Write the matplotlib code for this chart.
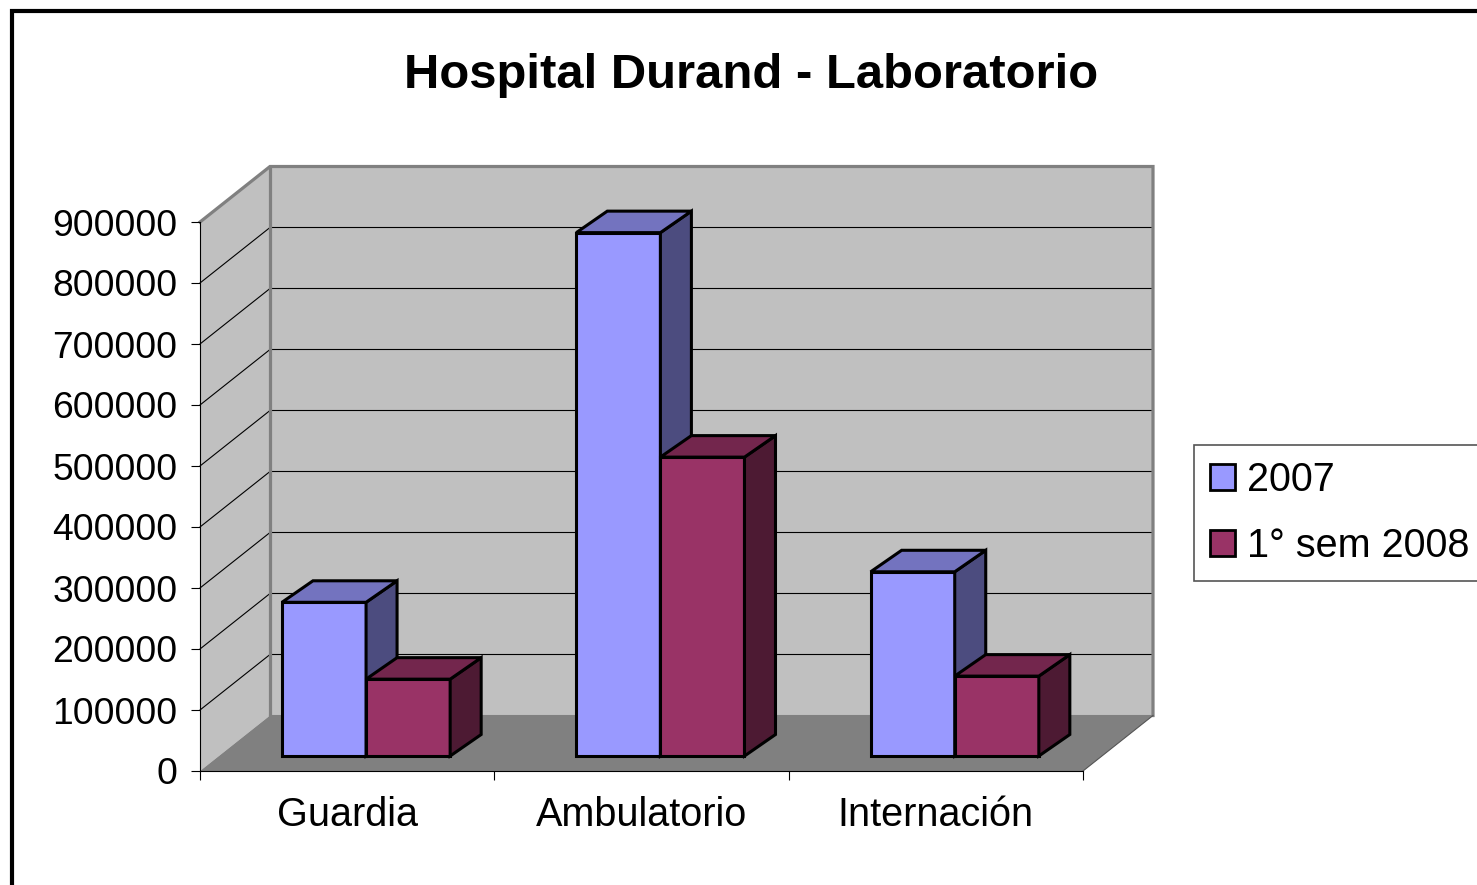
import numpy as np
import matplotlib
matplotlib.use("Agg")
import matplotlib.pyplot as plt
from matplotlib.patches import Polygon, Rectangle, Patch

plt.rcParams['font.family'] = ['Liberation Sans', 'DejaVu Sans']

# data
categories = ['Guardia', 'Ambulatorio', 'Internación']
series_names = ['2007', '1° sem 2008']
values_2007 = [252000, 858000, 302000]
values_2008 = [126000, 490000, 131000]
y_ticks = [0, 100000, 200000, 300000, 400000, 500000, 600000, 700000, 800000, 900000]

front_colors = ['#9999FF', '#993366']
side_colors = ['#4C4C7F', '#4D1A33']
top_colors = ['#7373BF', '#73264D']

W, H = 1477, 885
fig = plt.figure(figsize=(W / 100, H / 100), dpi=100)
ax = fig.add_axes([200 / W, 114 / H, 883 / W, 549 / H])
ymax = y_ticks[-1]
ncat = len(categories)
ax.set_xlim(0, ncat)
ax.set_ylim(0, ymax)

# pseudo 3d depth, converted from pixels to data units
px_x = ncat / 883
px_y = ymax / 549
wall_dx, wall_dy = 70 * px_x, 55.5 * px_y
bar_dx, bar_dy = 31 * px_x, 21.5 * px_y
bar_z = 0.27  # depth of the bars' front face (fraction of wall depth)

# walls and floor
kw = dict(clip_on=False, zorder=0, edgecolor='none')
ax.add_patch(Rectangle((wall_dx, wall_dy), ncat, ymax, facecolor='#C0C0C0', **kw))
ax.add_patch(Polygon([(0, 0), (wall_dx, wall_dy), (wall_dx, ymax + wall_dy), (0, ymax)],
                     facecolor='#C0C0C0', **kw))
ax.add_patch(Polygon([(0, 0), (ncat, 0), (ncat + wall_dx, wall_dy), (wall_dx, wall_dy)],
                     facecolor='#808080', **kw))

# gridlines on left and back wall
for v in y_ticks[1:-1]:
    ax.plot([0, wall_dx, ncat + wall_dx], [v, v + wall_dy, v + wall_dy],
            color='black', lw=0.8, clip_on=False, zorder=1)

# wall edges
edge = dict(color='#808080', lw=2.3, clip_on=False, zorder=1.5, solid_joinstyle='miter')
ax.plot([0, wall_dx, ncat + wall_dx, ncat + wall_dx],
        [ymax, ymax + wall_dy, ymax + wall_dy, wall_dy], **edge)
ax.plot([wall_dx, wall_dx], [wall_dy, ymax + wall_dy], **edge)
ax.plot([wall_dx, ncat + wall_dx], [wall_dy, wall_dy], color='#808080', lw=1.5,
        clip_on=False, zorder=1.5)
ax.plot([ncat, ncat + wall_dx], [0, wall_dy], color='#555555', lw=0.8,
        clip_on=False, zorder=1.5)

# bars
w = 1 / 3.5
gap = 0.75 / 3.5
x = np.arange(ncat)
base = bar_z * wall_dy
for k, vals in enumerate([values_2007, values_2008]):
    z = 3 + k
    xl = x + gap + k * w + bar_z * wall_dx
    ax.bar(xl, vals, width=w, bottom=base, align='edge', color=front_colors[k],
           edgecolor='black', linewidth=2.2, zorder=z, clip_on=False)
    for x0, v in zip(xl, vals):
        x1 = x0 + w
        top = base + v
        ax.add_patch(Polygon([(x1, base), (x1 + bar_dx, base + bar_dy),
                              (x1 + bar_dx, top + bar_dy), (x1, top)],
                             facecolor=side_colors[k], edgecolor='black', lw=2.2,
                             joinstyle='miter', clip_on=False, zorder=z))
        ax.add_patch(Polygon([(x0, top), (x1, top), (x1 + bar_dx, top + bar_dy),
                              (x0 + bar_dx, top + bar_dy)],
                             facecolor=top_colors[k], edgecolor='black', lw=2.2,
                             joinstyle='miter', clip_on=False, zorder=z))

# axes
ax.patch.set_visible(False)
for s in ['top', 'right']:
    ax.spines[s].set_visible(False)
for s in ['left', 'bottom']:
    ax.spines[s].set_linewidth(0.8)
ax.set_yticks(y_ticks, labels=[str(v) for v in y_ticks])
ax.tick_params(axis='y', direction='out', length=6.7, width=0.8, pad=9.5, labelsize=26.8)
ax.set_xticks(np.arange(ncat + 1), labels=[])
ax.tick_params(axis='x', which='major', direction='out', length=6.5, width=0.8)
ax.set_xticks(x + 0.5, labels=categories, minor=True)
ax.tick_params(axis='x', which='minor', length=0, pad=18, labelsize=28.5)

fig.text(751.5 / W, 1 - 87.7 / H, 'Hospital Durand - Laboratorio', ha='center',
         va='baseline', fontsize=35.3, fontweight='bold')

handles = [Patch(facecolor=c, edgecolor='black', linewidth=2) for c in front_colors]
leg = fig.legend(handles, series_names, loc='upper left',
                 bbox_to_anchor=(1194 / W, 1 - 444.7 / H), bbox_transform=fig.transFigure,
                 borderaxespad=0, fontsize=28.5, handlelength=0.63, handleheight=0.63,
                 handletextpad=0.3, borderpad=0.4, labelspacing=0.72,
                 fancybox=False, framealpha=1, edgecolor='#555555')
leg.get_frame().set_linewidth(1.2)

# chart border
fig.add_artist(Rectangle((12 / W, -0.5), 2, 1.5 - 11 / H, transform=fig.transFigure,
                         fill=False, edgecolor='black', lw=3))

fig.savefig('out.png', dpi=100)
